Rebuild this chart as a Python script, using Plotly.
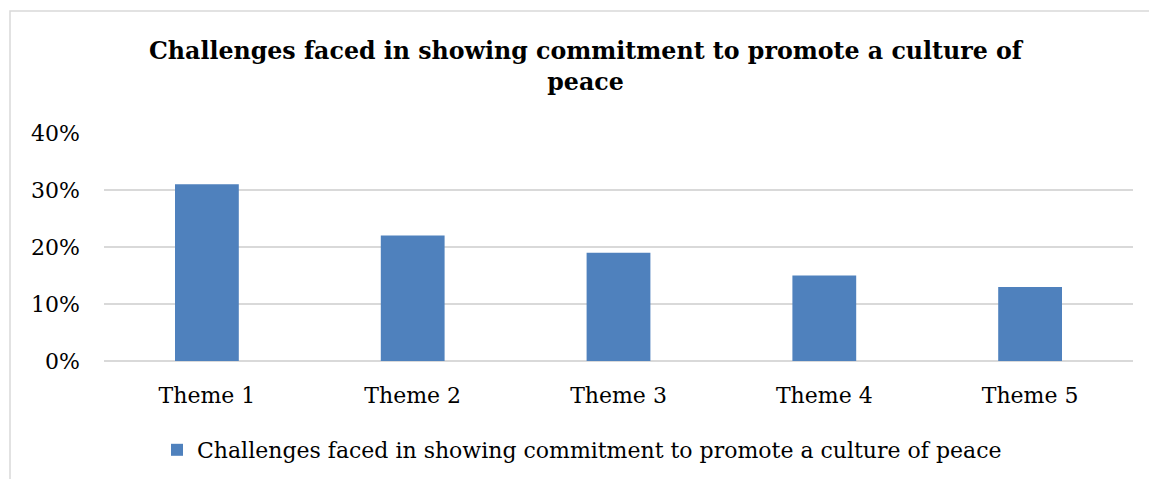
import plotly.graph_objects as go

categories = ["Theme 1", "Theme 2", "Theme 3", "Theme 4", "Theme 5"]
values = [0.31, 0.22, 0.19, 0.15, 0.13]
series_name = "Challenges faced in showing commitment to promote a culture of peace"
title_text = "Challenges faced in showing commitment to promote a culture of<br>peace"
y_ticks = [0, 0.1, 0.2, 0.3, 0.4]

# page offset (body margin) and figure size
OFF = 8
FW, FH = 1157 - OFF, 479 - OFF
ML, MR, MT, MB = 0, 0, 40, 40
PW, PH = FW - ML - MR, FH - MT - MB
FONT = "DejaVu Serif"


def px(sx):
    return (sx - OFF - ML) / PW


def py(sy):
    return 1 - (sy - OFF - MT) / PH


fig = go.Figure()
fig.add_trace(go.Bar(
    x=categories, y=values, name=series_name,
    marker=dict(color="#4F81BD", line=dict(width=0)),
))

fig.update_layout(
    width=FW, height=FH,
    margin=dict(l=ML, r=MR, t=MT, b=MB, pad=0),
    paper_bgcolor="white", plot_bgcolor="white",
    font=dict(family=FONT, size=22, color="#000000"),
    bargap=0.69,
    showlegend=True,
    legend=dict(
        orientation="h", x=px(157), xanchor="left", y=py(450), yanchor="middle",
        font=dict(family=FONT, size=22, color="#000000"),
        bgcolor="rgba(0,0,0,0)",
    ),
    xaxis=dict(
        domain=[px(104), px(1133)],
        showgrid=False, showline=False, ticks="",
        tickfont=dict(family=FONT, size=22),
        ticklabelstandoff=19, automargin=False,
    ),
    yaxis=dict(
        domain=[py(361), py(133)],
        range=[0, 0.4], tickvals=y_ticks, tickformat=".0%",
        showgrid=True, gridcolor="#D9D9D9", gridwidth=1.5,
        zeroline=True, zerolinecolor="#D9D9D9", zerolinewidth=1.5,
        showline=False, ticks="",
        tickfont=dict(family=FONT, size=22),
        ticklabelstandoff=23, automargin=False,
    ),
    annotations=[dict(
        text="<b>" + title_text + "</b>",
        x=px(586), y=py(66), xref="paper", yref="paper",
        xanchor="center", yanchor="middle", showarrow=False,
        font=dict(family=FONT, size=23.7, color="#000000"),
    )],
    shapes=[dict(
        type="rect", xref="paper", yref="paper",
        x0=px(10), x1=px(1180), y0=py(500), y1=py(11),
        line=dict(color="#D9D9D9", width=1.5), fillcolor="rgba(0,0,0,0)",
    )],
)

fig.write_html("out.html")
